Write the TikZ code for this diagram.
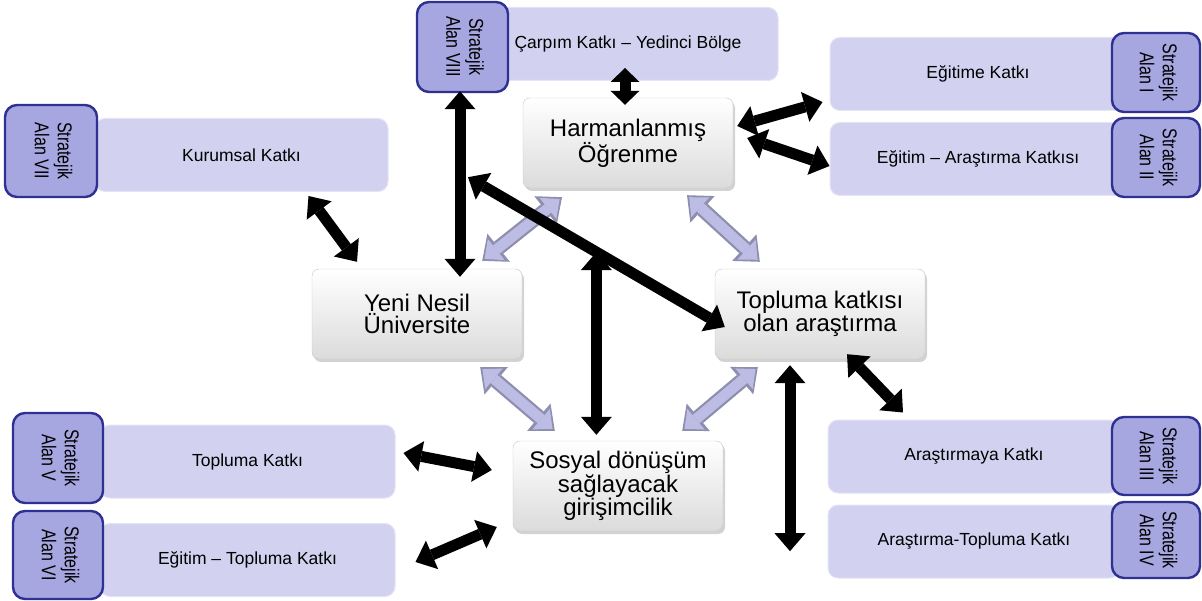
\documentclass[tikz,border=0pt]{standalone}
\usepackage{graphicx}
\usepackage{fontspec}
\setmainfont{Liberation Sans}
\usetikzlibrary{arrows.meta,shadows,calc}
\definecolor{lavlight}{HTML}{D2D2F0}
\definecolor{lavtab}{HTML}{A6A6E0}
\definecolor{navy}{HTML}{2E3192}
\definecolor{arrowrim}{HTML}{8E8EAE}
\definecolor{arrowcore}{HTML}{BCBCE4}
\newcommand{\tabtext}[1]{\rotatebox{-90}{\scalebox{0.8}[1]{\begin{tabular}{@{}c@{}}#1\end{tabular}}}}
\begin{document}
\begin{tikzpicture}[x=1pt,y=-1pt,
    mainbox/.style={draw=gray!45, rounded corners=7pt, top color=white, bottom color=gray!28,
      minimum width=210pt, minimum height=90pt, align=center,
      font=\fontsize{24}{22}\selectfont,
      drop shadow={opacity=0.35, shadow xshift=2pt, shadow yshift=-3pt}},
    areabox/.style={fill=lavlight, draw=lavlight!60!white, line width=1pt, rounded corners=10pt,
      minimum height=73pt, font=\fontsize{17.5}{20}\selectfont},
    areatab/.style={fill=lavtab, draw=navy, line width=2.4pt, rounded corners=12pt,
      inner sep=0pt, font=\fontsize{20}{23}\selectfont},
    blk/.style={draw=black, line width=11pt,
      arrows={Triangle[length=18pt,width=31pt,line width=0pt]-Triangle[length=18pt,width=31pt,line width=0pt]}},
    blkshort/.style={blk,
      arrows={Triangle[length=14pt,width=29pt,line width=0pt]-Triangle[length=14pt,width=29pt,line width=0pt]}},
    rim/.style={draw=arrowrim, line width=15pt,
      arrows={Triangle[length=21pt,width=36pt,line width=0pt]-Triangle[length=21pt,width=36pt,line width=0pt]}},
    core/.style={draw=arrowcore, line width=10.5pt, shorten <=3pt, shorten >=3pt,
      arrows={Triangle[length=15pt,width=27pt,line width=0pt]-Triangle[length=15pt,width=27pt,line width=0pt]}}]
    \useasboundingbox (0,0) rectangle (1202,601);

    % strategic areas
    \node[areabox, minimum width=300pt] (car) at (628,44) {Çarpım Katkı – Yedinci Bölge};
    \node[areabox, minimum width=296pt] (egt) at (978,74) {Eğitime Katkı};
    \node[areabox, minimum width=296pt] (ear) at (978,159) {Eğitim – Araştırma Katkısı};
    \node[areabox, minimum width=293pt] (kur) at (241.5,155) {Kurumsal Katkı};
    \node[areabox, minimum width=295pt] (top) at (247.5,461.5) {Topluma Katkı};
    \node[areabox, minimum width=295pt] (egtop) at (247.5,560) {Eğitim – Topluma Katkı};
    \node[areabox, minimum width=292pt] (ary) at (974,456.5) {Araştırmaya Katkı};
    \node[areabox, minimum width=292pt] (art) at (974,541.5) {Araştırma-Topluma Katkı};

    \node[areatab, minimum width=91pt, minimum height=90pt] (tab8) at (462.5,47) {\tabtext{Stratejik\\Alan VIII}};
    \node[areatab, minimum width=88pt, minimum height=79pt] (tab1) at (1156,72.5) {\tabtext{Stratejik\\Alan I}};
    \node[areatab, minimum width=88pt, minimum height=79pt] (tab2) at (1156,157.5) {\tabtext{Stratejik\\Alan II}};
    \node[areatab, minimum width=92pt, minimum height=92pt] (tab7) at (51,151) {\tabtext{Stratejik\\Alan VII}};
    \node[areatab, minimum width=90pt, minimum height=90pt] (tab5) at (58,458) {\tabtext{Stratejik\\Alan V}};
    \node[areatab, minimum width=90pt, minimum height=88pt] (tab6) at (58,555) {\tabtext{Stratejik\\Alan VI}};
    \node[areatab, minimum width=88pt, minimum height=78pt] (tab3) at (1156,456) {\tabtext{Stratejik\\Alan III}};
    \node[areatab, minimum width=88pt, minimum height=76pt] (tab4) at (1156,540) {\tabtext{Stratejik\\Alan IV}};

    % core boxes
    \node[mainbox] (harm) at (628,143) {Harmanlanmış\\Öğrenme};
    \node[mainbox] (yeni) at (417,314) {Yeni Nesil\\Üniversite};
    \node[mainbox] (topl) at (820,314) {Topluma katkısı\\olan araştırma};
    \node[mainbox] (sosyal) at (618,486) {Sosyal dönüşüm\\sağlayacak\\girişimcilik};

    % light arrows
    \draw[rim] ([shift={(-66,9)}]harm.south) -- ([shift={(-40,-8)}]yeni.north east);
    \draw[core] ([shift={(-66,9)}]harm.south) -- ([shift={(-40,-8)}]yeni.north east);
    \draw[rim] ([shift={(59,7)}]harm.south) -- ([shift={(45,-7)}]topl.north west);
    \draw[core] ([shift={(59,7)}]harm.south) -- ([shift={(45,-7)}]topl.north west);
    \draw[rim] ([shift={(-42,8)}]yeni.south east) -- ([shift={(42,-10)}]sosyal.north west);
    \draw[core] ([shift={(-42,8)}]yeni.south east) -- ([shift={(42,-10)}]sosyal.north west);
    \draw[rim] ([shift={(43,8)}]topl.south west) -- ([shift={(-41,-10)}]sosyal.north east);
    \draw[core] ([shift={(43,8)}]topl.south west) -- ([shift={(-41,-10)}]sosyal.north east);

    % black arrows
    \draw[blkshort] ([shift={(-3,-13)}]car.south) -- ([shift={(-3,7)}]harm.north);
    \draw[blk] ([shift={(4,-17)}]harm.east) -- ([shift={(-7,28)}]egt.west);
    \draw[blk] ([shift={(14,-5)}]harm.east) -- ([shift={(0,7)}]ear.west);
    \draw[blk] ([shift={(-80,4)}]kur.south east) -- ([shift={(-60,-7)}]yeni.north);
    \draw[blk] ([shift={(-2.5,-2)}]tab8.south) -- ([shift={(43,8)}]yeni.north);
    \draw[blk] ([shift={(5.5,84)}]tab8.south) -- coordinate[pos=.5] (junction) ([shift={(10,13)}]topl.west);
    \draw[blk] (junction) -- ($(junction |- sosyal.north)+(0,-6)$);
    \draw[blk] ([shift={(-30,6)}]topl.south) -- ([shift={(-30,192)}]topl.south);
    \draw[blk] ([shift={(27,-5)}]topl.south) -- ([shift={(-71,-7)}]ary.north);
    \draw[blk] ([shift={(8,-8.5)}]top.east) -- ([shift={(-21,-16)}]sosyal.west);
    \draw[blk] ([shift={(20,2)}]egtop.east) -- ([shift={(-16,41)}]sosyal.west);
\end{tikzpicture}
\end{document}
